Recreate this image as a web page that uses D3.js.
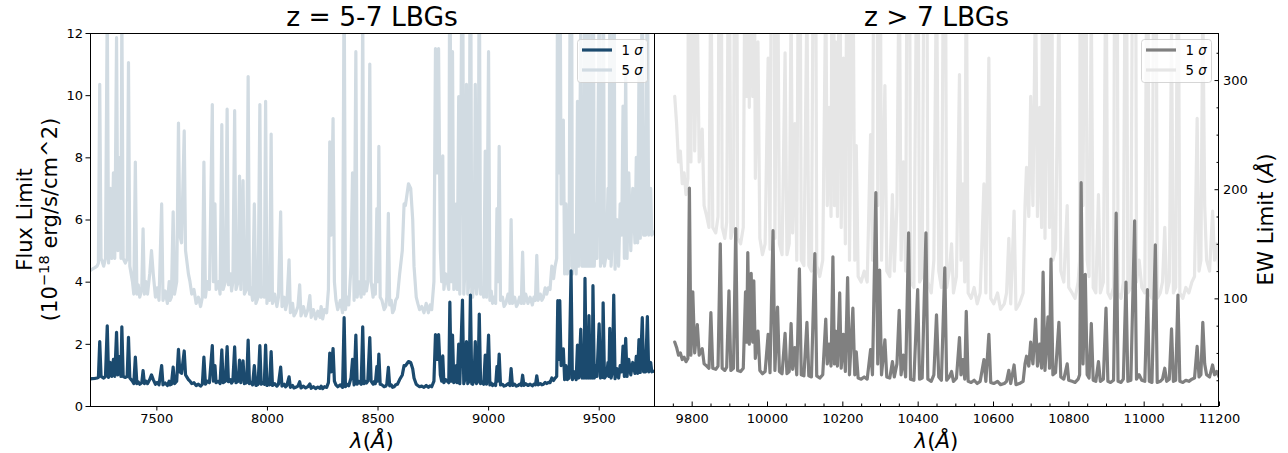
<!DOCTYPE html>
<html>
<head>
<meta charset="utf-8">
<script src="https://cdn.jsdelivr.net/npm/d3@7"></script>
<style>
  body { margin: 0; background: #ffffff; }
  svg text { font-family: "DejaVu Sans", sans-serif; fill: #000; }
</style>
</head>
<body>
<svg id="chart" width="1288" height="453"></svg>
<script>
// ---- z = 5-7 panel: wavelength (Å) and line flux limits (1e-18 erg/s/cm^2) ----
const waveLo = [
  7200,7210,7222,7232,7238,7244,7250,7262,7270,7278,
  7284,7292,7298,7306,7312,7320,7326,7336,7340,7344,
  7350,7360,7368,7374,7380,7392,7398,7405,7412,7418,
  7425,7434,7440,7446,7453,7460,7470,7478,7486,7496,
  7504,7512,7524,7530,7540,7550,7558,7562,7568,7576,
  7582,7592,7600,7606,7614,7626,7632,7645,7652,7660,
  7670,7680,7690,7700,7708,7715,7722,7730,7740,7753,
  7758,7765,7770,7782,7788,7796,7802,7812,7820,7826,
  7836,7840,7846,7854,7860,7870,7876,7882,7892,7898,
  7908,7915,7921,7928,7935,7943,7950,7960,7968,7974,
  7980,7988,7994,8000,8005,8012,8019,8025,8035,8045,
  8052,8062,8068,8078,8084,8090,8100,8106,8116,8122,
  8130,8140,8148,8154,8165,8175,8185,8194,8200,8210,
  8220,8230,8240,8245,8252,8260,8270,8278,8284,8290,
  8299,8305,8312,8320,8332,8342,8349,8355,8362,8370,
  8380,8387,8394,8402,8408,8414,8420,8426,8433,8439,
  8444,8450,8456,8465,8471,8480,8485,8490,8497,8501,
  8506,8512,8520,8530,8537,8542,8549,8555,8562,8568,
  8575,8582,8590,8600,8612,8620,8626,8632,8640,8650,
  8659,8665,8675,8682,8690,8700,8710,8720,8730,8738,
  8745,8755,8762,8770,8776,8784,8790,8795,8800,8808,
  8815,8822,8827,8833,8839,8845,8852,8856,8860,8867,
  8872,8884,8890,8896,8902,8908,8914,8920,8926,8930,
  8936,8942,8948,8954,8960,8966,8973,8980,8987,8993,
  9002,9008,9014,9020,9027,9034,9040,9044,9050,9056,
  9065,9072,9080,9090,9098,9104,9110,9120,9128,9135,
  9142,9150,9156,9162,9170,9180,9190,9200,9207,9214,
  9220,9226,9236,9243,9250,9258,9265,9272,9280,9288,
  9296,9303,9310,
  9315,9320,9324,9330,9340,9346,9352,9358,9366,9375,
  9381,9390,9398,9404,9410,9419,9425,9431,9434,9438,
  9444,9450,9453,9456,9462,9468,9471,9474,9480,9486,
  9492,9502,9508,9514,9517,9520,9526,9536,9542,9546,
  9550,9556,9562,9568,9574,9582,9590,9597,9604,9610,
  9616,9622,9628,9636,9645,9654,9664,9670,9676,9682,
  9688,9697,9703,9712,9720,9726,9735,9740,9750
];
const sig1Lo = [
  0.87,0.88,0.89,0.9,0.92,2.07,0.95,0.9,0.95,2.58,
  0.92,1.4,0.95,1.5,0.95,2.37,1,1.6,0.95,2.55,
  0.95,0.92,0.95,2.21,0.9,0.8,0.72,1.57,0.72,0.78,
  0.7,0.75,1.14,0.72,0.8,0.72,0.85,1,0.85,0.7,
  0.76,0.68,1.3,0.68,0.74,0.66,0.8,0.68,0.7,1.25,
  0.72,0.8,1.82,1.1,1.05,1.77,1,0.85,0.8,0.72,
  0.75,0.66,0.7,0.64,0.7,1.57,0.7,0.8,0.75,1.94,
  0.8,1.3,0.75,0.8,0.72,1.81,0.75,0.8,1.91,0.78,
  0.85,0.74,0.8,1.9,0.75,0.8,1.48,0.75,1.45,0.72,
  0.75,2.12,0.72,0.76,0.68,1.3,0.66,0.7,1.94,0.7,
  0.76,0.7,1.96,0.66,0.74,0.68,1.75,0.66,0.72,0.64,
  0.7,1.25,0.64,0.7,0.62,0.66,0.94,0.6,0.66,0.58,
  0.6,0.64,0.78,0.58,0.64,0.58,0.62,0.71,0.57,0.62,
  0.56,0.61,0.57,0.64,0.56,0.62,0.6,0.75,1.7,1.1,
  1.85,0.8,0.68,0.62,0.68,0.6,2.84,0.62,0.7,0.65,
  0.9,1.5,0.68,2.28,0.7,0.8,0.75,0.7,2.55,0.72,
  0.8,0.74,0.8,2.2,0.8,0.7,0.78,0.72,1.27,0.8,
  1.67,0.7,0.68,0.62,0.64,0.7,1.24,0.65,0.68,0.6,
  0.62,0.68,0.7,0.85,1,1.3,1.29,1.35,1.43,1.4,
  1.2,0.9,0.7,0.66,0.62,0.64,0.6,0.66,0.6,0.65,
  0.62,0.8,2.3,1.5,2.3,1,0.8,1.61,0.75,0.85,
  0.8,0.75,3.34,0.8,2.28,0.75,0.8,1.3,0.75,1.99,
  0.72,3.41,0.72,0.9,2.07,0.72,0.8,3.57,0.72,0.7,
  0.8,2.07,0.72,0.8,2.96,0.72,0.76,0.7,1.64,0.7,
  2.28,0.68,0.74,0.66,0.7,0.66,1.27,0.8,1.67,0.68,
  0.7,0.64,0.66,0.72,0.66,1.2,0.66,0.7,0.64,0.66,
  0.7,0.66,0.99,0.66,0.72,0.66,0.7,0.65,0.7,0.68,
  0.97,0.68,0.72,0.68,0.7,0.76,0.72,0.76,0.75,0.9,
  0.82,0.9,0.95,
  3.39,1.5,3.39,1.3,1.84,0.85,1.3,0.85,0.9,4.35,
  0.85,1.1,0.85,1.96,0.9,2.47,0.9,1.4,0.9,4.11,
  0.9,1.3,0.9,2.91,0.9,1.2,0.9,3.87,0.9,1.3,
  0.95,2.64,0.9,1.2,0.92,3.32,0.9,1,1.4,0.95,
  2.5,0.9,1.1,3.57,0.88,1.2,0.9,1.3,1.1,1.93,
  0.95,2.18,0.95,1.5,1,1.4,1.05,1.6,1.05,2.14,
  1.08,2.84,1.1,1.1,2.88,1.1,1.4,1.1,1.12
];
const sig5Lo = [
  4.35,4.4,4.45,4.5,4.6,10.35,4.75,4.5,4.75,12.9,
  4.6,7,4.75,7.5,4.75,11.85,5,8,4.75,12.75,
  4.75,4.6,4.75,11.05,4.5,4,3.6,7.85,3.6,3.9,
  3.5,3.75,5.7,3.6,4,3.6,4.25,5,4.25,3.5,
  3.8,3.4,6.5,3.4,3.7,3.3,4,3.4,3.5,6.25,
  3.6,4,9.1,5.5,5.25,8.85,5,4.25,4,3.6,
  3.75,3.3,3.5,3.2,3.5,7.85,3.5,4,3.75,9.7,
  4,6.5,3.75,4,3.6,9.05,3.75,4,9.55,3.9,
  4.25,3.7,4,9.5,3.75,4,7.4,3.75,7.25,3.6,
  3.75,10.6,3.6,3.8,3.4,6.5,3.3,3.5,9.7,3.5,
  3.8,3.5,9.8,3.3,3.7,3.4,8.75,3.3,3.6,3.2,
  3.5,6.25,3.2,3.5,3.1,3.3,4.7,3,3.3,2.9,
  3,3.2,3.9,2.9,3.2,2.9,3.1,3.55,2.85,3.1,
  2.8,3.05,2.85,3.2,2.8,3.1,3,3.75,8.5,5.5,
  9.25,4,3.4,3.1,3.4,3,14.2,3.1,3.5,3.25,
  4.5,7.5,3.4,11.4,3.5,4,3.75,3.5,12.75,3.6,
  4,3.7,4,11,4,3.5,3.9,3.6,6.35,4,
  8.35,3.5,3.4,3.1,3.2,3.5,6.2,3.25,3.4,3,
  3.1,3.4,3.5,4.25,5,6.5,6.45,6.75,7.15,7,
  6,4.5,3.5,3.3,3.1,3.2,3,3.3,3,3.25,
  3.1,4,11.5,7.5,11.5,5,4,8.05,3.75,4.25,
  4,3.75,16.7,4,11.4,3.75,4,6.5,3.75,9.95,
  3.6,17.05,3.6,4.5,10.35,3.6,4,17.85,3.6,3.5,
  4,10.35,3.6,4,14.8,3.6,3.8,3.5,8.2,3.5,
  11.4,3.4,3.7,3.3,3.5,3.3,6.35,4,8.35,3.4,
  3.5,3.2,3.3,3.6,3.3,6,3.3,3.5,3.2,3.3,
  3.5,3.3,4.95,3.3,3.6,3.3,3.5,3.25,3.5,3.4,
  4.85,3.4,3.6,3.4,3.5,3.8,3.6,3.8,3.75,4.5,
  4.1,4.5,4.75,
  16.95,7.5,16.95,6.5,9.2,4.25,6.5,4.25,4.5,21.75,
  4.25,5.5,4.25,9.8,4.5,12.35,4.5,7,4.5,20.55,
  4.5,6.5,4.5,14.55,4.5,6,4.5,19.35,4.5,6.5,
  4.75,13.2,4.5,6,4.6,16.6,4.5,5,7,4.75,
  12.5,4.5,5.5,17.85,4.4,6,4.5,6.5,5.5,9.65,
  4.75,10.9,4.75,7.5,5,7,5.25,8,5.25,10.7,
  5.4,14.2,5.5,5.5,14.4,5.5,7,5.5,5.6
];

// ---- z > 7 panel: wavelength (Å) and equivalent-width limits (Å) ----
const waveHi = [9755,9760,9765,9770,9775,9780,9785,9790,9794,9798,9803,9808,9815,9820,9828,9833,9840,9846,9851,9856,9864,9870,9876,9881,9888,9893,9899,9904,9911,9917,9922,9930,9937,9943,9946,9949,9953,9958,9962,9965,9969,9976,9981,9988,9995,10003,10008,10016,10021,10028,10033,10040,10048,10053,10059,10064,10068,10074,10079,10086,10091,10098,10106,10111,10118,10127,10132,10140,10148,10156,10160,10165,10170,10175,10179,10182,10187,10193,10197,10203,10208,10214,10219,10228,10233,10237,10242,10250,10258,10266,10275,10280,10289,10294,10299,10304,10313,10318,10326,10333,10338,10345,10351,10356,10362,10368,10376,10381,10390,10400,10405,10412,10422,10427,10436,10443,10450,10456,10463,10472,10477,10484,10490,10495,10503,10511,10515,10520,10525,10529,10534,10542,10550,10558,10566,10576,10581,10589,10594,10602,10612,10620,10630,10636,10642,10647,10656,10661,10670,10680,10685,10689,10695,10700,10706,10713,10718,10724,10729,10733,10738,10746,10750,10754,10759,10766,10775,10780,10788,10797,10801,10810,10818,10826,10830,10834,10839,10845,10850,10855,10861,10866,10873,10880,10885,10893,10900,10905,10912,10920,10927,10932,10940,10946,10953,10958,10966,10976,10981,10988,10995,11003,11010,11015,11022,11031,11036,11044,11050,11056,11061,11068,11074,11079,11085,11091,11096,11104,11112,11120,11128,11135,11142,11147,11152,11157,11162,11167,11175,11183,11188,11194,11200];
const ew1Hi = [60,55,48,50,44,46,42,45,201,48,106,50,76,48,54,40,38,36,87,36,35,38,150,36,34,37,107,34,36,164,34,33,36,106,60,142,58,123,60,116,45,70,34,31,33,67,32,162,34,92,33,31,68,31,33,77,35,55,30,127,30,29,78,29,28,141,29,27,30,81,40,58,38,138,40,70,38,105,36,67,33,119,30,91,30,51,27,26,28,26,53,30,197,40,126,30,62,28,27,42,28,40,89,30,48,28,160,26,25,108,26,27,160,26,24,30,85,28,25,128,25,28,33,24,27,64,30,44,26,88,24,23,25,22,24,44,24,67,23,22,24,21,22,24,34,22,39,21,22,24,40,47,38,60,40,81,38,58,36,124,34,83,36,136,30,32,78,28,26,40,25,24,23,26,30,206,40,122,30,27,77,25,24,42,24,26,91,24,23,25,178,24,23,26,115,24,25,171,26,30,25,24,108,24,23,149,23,24,26,36,24,26,72,24,25,103,24,23,25,24,26,27,56,28,30,78,40,30,28,39,30,33,28];
const ew5Hi = [285,260,225,235,205,215,195,210,990,225,515,235,365,225,255,185,175,165,420,165,160,175,735,165,155,170,520,155,165,805,155,150,165,515,285,695,275,600,285,565,210,335,155,140,150,320,145,795,155,445,150,140,325,140,150,370,160,260,135,620,135,130,375,130,125,690,130,120,135,390,185,275,175,675,185,335,175,510,165,320,150,580,135,440,135,240,120,115,125,115,250,135,970,185,615,135,295,125,120,195,125,185,430,135,225,125,785,115,110,525,115,120,785,115,105,135,410,125,110,625,110,125,150,105,120,305,135,205,115,425,105,100,110,95,105,205,105,320,100,95,105,90,95,105,155,95,180,90,95,105,185,220,175,285,185,390,175,275,165,605,155,400,165,665,135,145,375,125,115,185,110,105,100,115,135,1015,185,595,135,120,370,110,105,195,105,115,440,105,100,110,875,105,100,115,560,105,110,840,115,135,110,105,525,105,100,730,100,105,115,165,105,115,345,105,110,500,105,100,110,105,115,120,265,125,135,375,185,135,125,180,135,150,125];

// ---- axes, labels, legend ----
const fluxTicks = [0, 2, 4, 6, 8, 10, 12];
const waveTicksLo = [7500, 8000, 8500, 9000, 9500];
const waveTicksHi = [9800, 10000, 10200, 10400, 10600, 10800, 11000, 11200];
const waveMinorHi = [9750, 9850, 9900, 9950, 10050, 10100, 10150, 10250, 10300, 10350, 10450, 10500, 10550,
                     10650, 10700, 10750, 10850, 10900, 10950, 11050, 11100, 11150];
const ewTicks = [100, 200, 300];
const ewMinor = [25, 50, 75, 125, 150, 175, 225, 250, 275, 325];
const panelTitles = ["z = 5-7 LBGs", "z > 7 LBGs"];
const legendLabels = ["1", "5"];

const colors = {
  lo1: "#1b4a6e", lo5: "#d1dbe2",
  hi1: "#808080", hi5: "#e6e6e6"
};

const box = { top: 33, bottom: 406, left: 90, mid: 654, right: 1219 };
const svg = d3.select("#chart");

const xLo = d3.scaleLinear().domain([7200, 9750]).range([box.left, box.mid]);
const xHi = d3.scaleLinear().domain([9700, 11200]).range([box.mid, box.right]);
const yFlux = d3.scaleLinear().domain([0, 12]).range([box.bottom, box.top]);
const yEW = d3.scaleLinear().domain([1.4, 343.1]).range([box.bottom, box.top]);
const fmt = d3.format("d");

const defs = svg.append("defs");
[["clipLo", box.left, box.mid], ["clipHi", box.mid, box.right]].forEach(([id, a, b]) => {
  defs.append("clipPath").attr("id", id).append("rect")
    .attr("x", a).attr("y", box.top).attr("width", b - a).attr("height", box.bottom - box.top);
});

function spectrum(clipId, xs, ys, x, y, color) {
  const line = d3.line()
    .defined((d, i) => ys[i] != null)
    .x((d, i) => x(xs[i]))
    .y((d, i) => y(ys[i]));
  svg.append("path")
    .datum(xs)
    .attr("clip-path", `url(#${clipId})`)
    .attr("d", line)
    .attr("fill", "none")
    .attr("stroke", color)
    .attr("stroke-width", 3.2)
    .attr("stroke-linejoin", "round")
    .attr("stroke-linecap", "round");
}

// 5 sigma under 1 sigma
spectrum("clipLo", waveLo, sig5Lo, xLo, yFlux, colors.lo5);
spectrum("clipLo", waveLo, sig1Lo, xLo, yFlux, colors.lo1);
spectrum("clipHi", waveHi, ew5Hi, xHi, yEW, colors.hi5);
spectrum("clipHi", waveHi, ew1Hi, xHi, yEW, colors.hi1);

function styleAxis(g) {
  g.select(".domain").remove();
  g.selectAll(".tick line").attr("stroke", "#000").attr("stroke-width", 1);
  g.selectAll(".tick text").attr("font-size", 13).attr("font-family", "DejaVu Sans, sans-serif").attr("fill", "#000");
}

// left panel axes
svg.append("g").attr("transform", `translate(${box.left},0)`)
  .call(d3.axisLeft(yFlux).tickValues(fluxTicks).tickFormat(fmt).tickSize(4.5).tickPadding(2.5))
  .call(styleAxis);
svg.append("g").attr("transform", `translate(0,${box.bottom})`)
  .call(d3.axisBottom(xLo).tickValues(waveTicksLo).tickFormat(fmt).tickSize(4.5).tickPadding(2.8))
  .call(styleAxis);

// right panel axes (ticks point inward)
svg.append("g").attr("transform", `translate(0,${box.bottom})`)
  .call(d3.axisBottom(xHi).tickValues(waveTicksHi).tickFormat(fmt).tickSize(-4.5).tickPadding(7.3))
  .call(styleAxis);
svg.append("g").attr("transform", `translate(0,${box.bottom})`)
  .call(d3.axisBottom(xHi).tickValues(waveMinorHi).tickSize(-2.5).tickFormat(() => ""))
  .call(styleAxis);
svg.append("g").attr("transform", `translate(${box.right},0)`)
  .call(d3.axisRight(yEW).tickValues(ewTicks).tickFormat(fmt).tickSize(-4.5).tickPadding(4))
  .call(styleAxis);
svg.append("g").attr("transform", `translate(${box.right},0)`)
  .call(d3.axisRight(yEW).tickValues(ewMinor).tickSize(-2.5).tickFormat(() => ""))
  .call(styleAxis);

// frames
svg.append("rect")
  .attr("x", box.left + 0.5).attr("y", box.top + 0.5)
  .attr("width", box.right - box.left - 1).attr("height", box.bottom - box.top)
  .attr("fill", "none").attr("stroke", "#000").attr("stroke-width", 1)
  .attr("shape-rendering", "crispEdges");
svg.append("line")
  .attr("x1", box.mid + 0.5).attr("x2", box.mid + 0.5)
  .attr("y1", box.top).attr("y2", box.bottom)
  .attr("stroke", "#000").attr("stroke-width", 1).attr("shape-rendering", "crispEdges");

// titles
[[(box.left + box.mid) / 2, panelTitles[0]], [(box.mid + box.right) / 2, panelTitles[1]]].forEach(([cx, t]) => {
  svg.append("text").attr("x", cx).attr("y", 25.5)
    .attr("text-anchor", "middle").attr("font-size", 26.5).text(t);
});

// x labels: λ(Å)
[(box.left + box.mid) / 2, (box.mid + box.right) / 2].forEach(cx => {
  const t = svg.append("text").attr("x", cx).attr("y", 447.5)
    .attr("text-anchor", "middle").attr("font-size", 21.3);
  t.append("tspan").attr("font-style", "italic").text("λ");
  t.append("tspan").text("(");
  t.append("tspan").attr("font-style", "italic").text("Å");
  t.append("tspan").text(")");
});

// left y label, two lines
const cy = (box.top + box.bottom) / 2;
svg.append("text").attr("transform", `translate(31.5,${cy}) rotate(-90)`)
  .attr("text-anchor", "middle").attr("font-size", 21).text("Flux Limit");
const yl2 = svg.append("text").attr("transform", `translate(57,${cy}) rotate(-90)`)
  .attr("text-anchor", "middle").attr("font-size", 21);
yl2.append("tspan").text("(10");
yl2.append("tspan").attr("font-size", 14.7).attr("dy", -8).text("−18");
yl2.append("tspan").attr("dy", 8).text(" erg/s/cm^2)");

// right y label
const ewl = svg.append("text").attr("transform", `translate(1273,${cy}) rotate(-90)`)
  .attr("text-anchor", "middle").attr("font-size", 21.3);
ewl.append("tspan").text("EW Limit (");
ewl.append("tspan").attr("font-style", "italic").text("Å");
ewl.append("tspan").text(")");

// legends
function legend(x0, lineColors) {
  const g = svg.append("g");
  g.append("rect")
    .attr("x", x0).attr("y", 39.5).attr("width", 70).attr("height", 43).attr("rx", 3)
    .attr("fill", "#fff").attr("fill-opacity", 0.8)
    .attr("stroke", "#cccccc").attr("stroke-opacity", 0.8);
  legendLabels.forEach((lab, i) => {
    const yy = 50 + i * 20;
    g.append("line")
      .attr("x1", x0 + 4.5).attr("x2", x0 + 34.5).attr("y1", yy).attr("y2", yy)
      .attr("stroke", lineColors[i]).attr("stroke-width", 3.2);
    const t = g.append("text").attr("x", x0 + 44).attr("y", yy).attr("dy", "0.36em").attr("font-size", 13.3);
    t.append("tspan").text(lab + " ");
    t.append("tspan").attr("font-style", "italic").text("σ");
  });
}
legend(577.5, [colors.lo1, colors.lo5]);
legend(1141.5, [colors.hi1, colors.hi5]);
</script>
</body>
</html>
